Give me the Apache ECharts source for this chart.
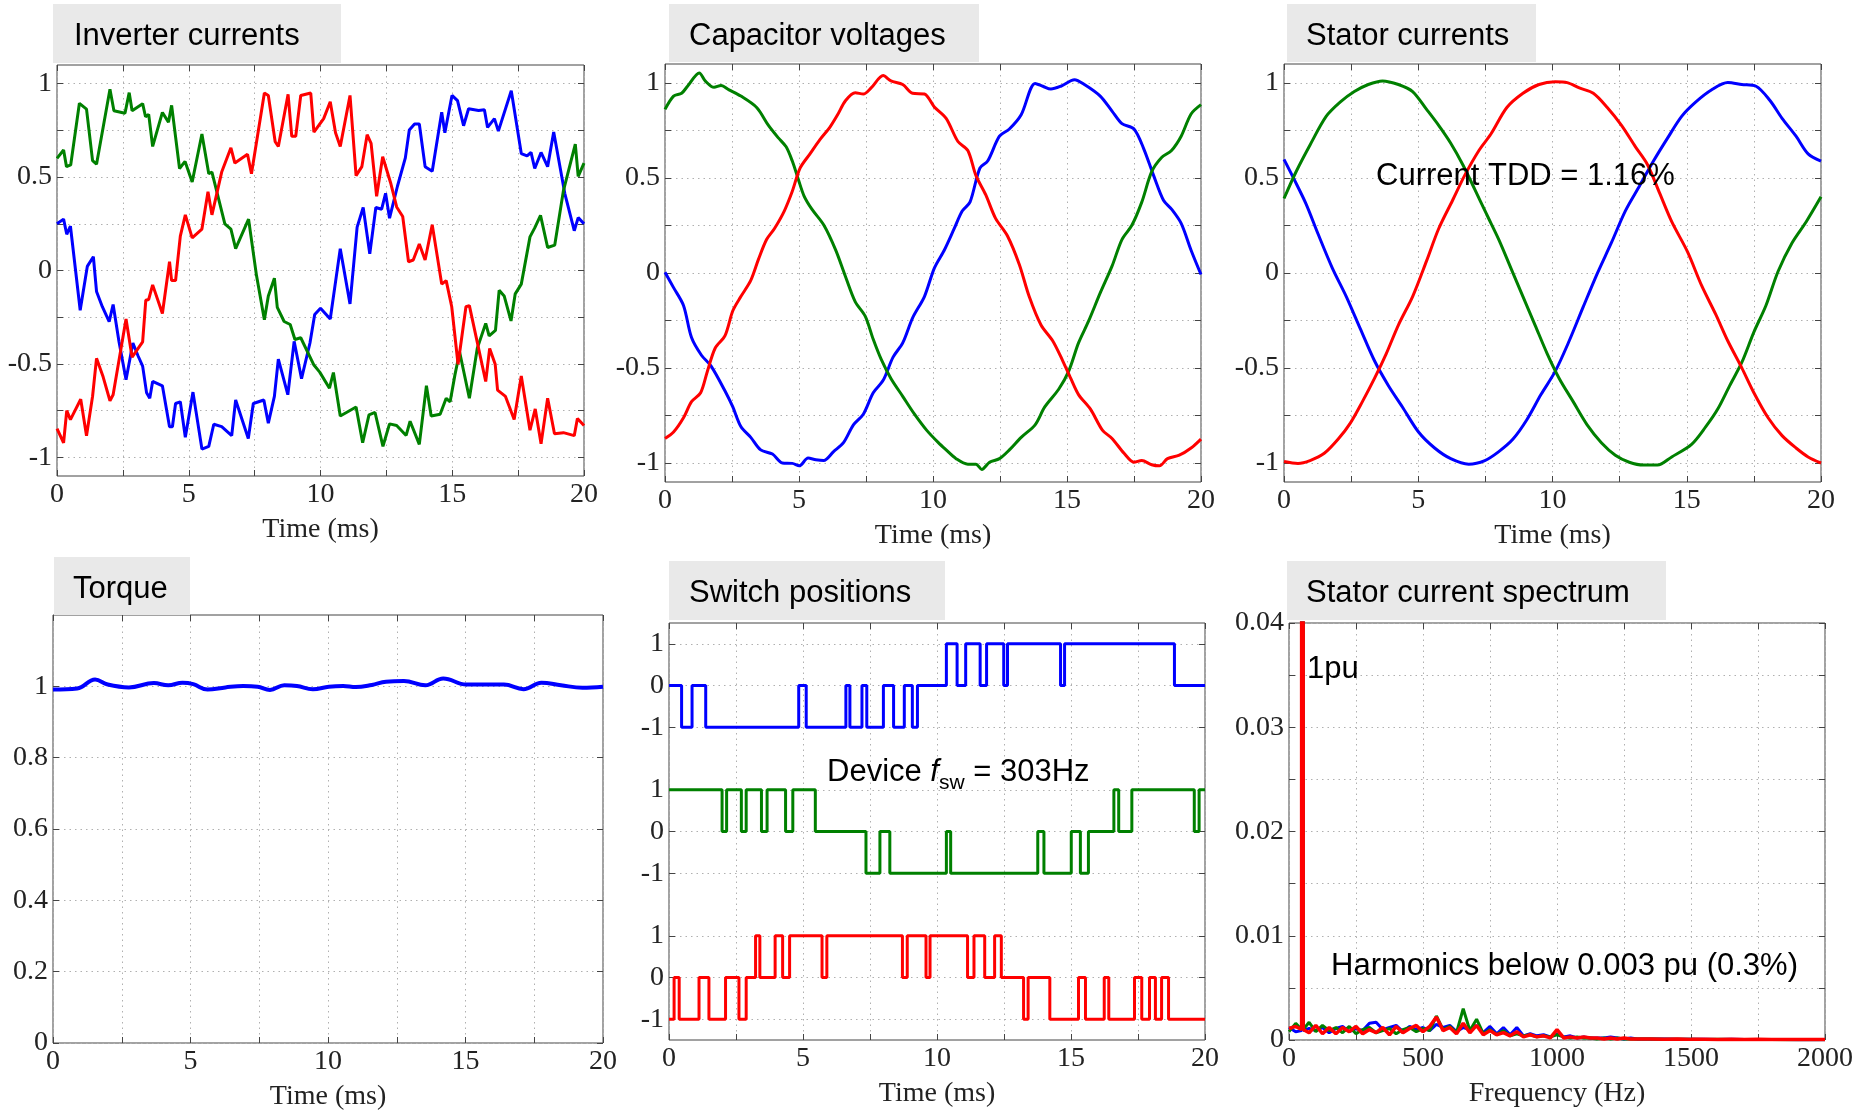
<!DOCTYPE html>
<html><head><meta charset="utf-8">
<script src="https://cdn.jsdelivr.net/npm/echarts@6/dist/echarts.min.js"></script>
<style>html,body{margin:0;padding:0;background:#fff}#c{width:1859px;height:1112px}</style>
</head><body><div id="c"></div><script>
// ---------- DATA ----------
// Inverter currents (time ms, value pu)
const invBlueT=[0,0.25,0.37,0.51,0.88,1.15,1.38,1.5,1.72,1.98,2.13,2.35,2.62,2.88,3.07,3.25,3.4,3.52,3.63,4.0,4.27,4.38,4.5,4.68,4.87,5.16,5.5,5.76,5.95,6.25,6.63,6.78,7.26,7.45,7.85,8.02,8.25,8.4,8.76,9.0,9.28,9.6,9.78,10.0,10.37,10.75,11.12,11.39,11.62,11.87,12.1,12.32,12.47,12.62,12.92,13.22,13.37,13.57,13.75,13.97,14.24,14.6,14.72,14.99,15.2,15.43,15.62,16.0,16.22,16.34,16.6,16.75,17.24,17.62,17.84,17.99,18.13,18.37,18.62,18.85,19.27,19.63,19.78,20];
const invBlueV=[0.25,0.275,0.194,0.237,-0.213,0.022,0.074,-0.112,-0.194,-0.274,-0.182,-0.379,-0.585,-0.388,-0.455,-0.512,-0.655,-0.684,-0.594,-0.617,-0.836,-0.836,-0.712,-0.703,-0.893,-0.651,-0.956,-0.941,-0.823,-0.836,-0.884,-0.693,-0.899,-0.712,-0.693,-0.817,-0.674,-0.474,-0.665,-0.379,-0.579,-0.388,-0.236,-0.202,-0.26,0.117,-0.179,0.232,0.337,0.089,0.337,0.328,0.413,0.28,0.451,0.603,0.752,0.784,0.784,0.556,0.531,0.847,0.737,0.937,0.909,0.775,0.866,0.857,0.861,0.766,0.813,0.746,0.962,0.626,0.613,0.632,0.546,0.632,0.556,0.741,0.413,0.213,0.283,0.25];
const invGreenT=[0,0.25,0.36,0.52,0.85,1.12,1.35,1.5,2.01,2.16,2.58,2.74,2.85,3.25,3.36,3.48,3.63,4.0,4.23,4.35,4.65,4.86,5.13,5.5,5.76,5.88,6.37,6.6,6.78,7.27,7.57,7.87,8.02,8.25,8.36,8.62,8.85,9.03,9.25,9.75,9.97,10.34,10.49,10.75,11.35,11.6,11.84,12.07,12.37,12.62,12.89,13.25,13.4,13.75,14.02,14.2,14.54,14.77,14.92,15.1,15.28,15.65,15.95,16.27,16.4,16.64,16.78,16.97,17.23,17.39,17.62,17.95,18.13,18.35,18.62,18.89,19.22,19.67,19.78,20];
const invGreenV=[0.60,0.645,0.556,0.565,0.895,0.864,0.588,0.569,0.97,0.855,0.842,0.952,0.855,0.893,0.823,0.836,0.664,0.846,0.794,0.884,0.546,0.584,0.474,0.731,0.518,0.527,0.25,0.222,0.117,0.275,-0.026,-0.264,-0.136,-0.041,-0.197,-0.273,-0.289,-0.369,-0.36,-0.506,-0.544,-0.63,-0.546,-0.779,-0.731,-0.922,-0.773,-0.76,-0.941,-0.821,-0.83,-0.883,-0.807,-0.931,-0.617,-0.779,-0.769,-0.684,-0.703,-0.56,-0.436,-0.684,-0.416,-0.283,-0.35,-0.321,-0.106,-0.136,-0.27,-0.125,-0.073,0.18,0.228,0.295,0.123,0.136,0.428,0.676,0.504,0.575];
const invRedT=[0,0.25,0.37,0.51,0.9,1.12,1.35,1.5,1.75,2.01,2.13,2.62,2.85,3.25,3.37,3.48,3.63,4.0,4.27,4.35,4.5,4.68,4.87,5.13,5.5,5.73,5.88,6.25,6.6,6.75,7.23,7.38,7.87,8.02,8.28,8.4,8.77,8.91,9.06,9.25,9.63,9.75,10.12,10.37,10.57,10.75,11.12,11.35,11.57,11.77,11.92,12.13,12.36,12.66,12.89,13.12,13.34,13.52,13.75,13.97,14.24,14.6,14.77,14.98,15.22,15.52,15.65,16.27,16.42,16.63,16.72,17.02,17.35,17.62,17.95,18.15,18.37,18.62,18.88,19.22,19.63,19.75,20];
const invRedV=[-0.846,-0.922,-0.75,-0.798,-0.689,-0.884,-0.673,-0.47,-0.569,-0.697,-0.665,-0.26,-0.464,-0.382,-0.159,-0.155,-0.077,-0.23,0.047,-0.054,-0.054,0.184,0.298,0.175,0.222,0.422,0.298,0.527,0.657,0.575,0.622,0.518,0.95,0.937,0.689,0.664,0.943,0.718,0.718,0.937,0.95,0.741,0.813,0.903,0.737,0.664,0.937,0.508,0.556,0.727,0.68,0.397,0.609,0.47,0.34,0.289,0.047,0.056,0.142,0.056,0.245,-0.073,-0.054,-0.194,-0.502,-0.194,-0.188,-0.594,-0.417,-0.502,-0.64,-0.674,-0.798,-0.565,-0.855,-0.741,-0.928,-0.684,-0.874,-0.868,-0.884,-0.792,-0.83];

// Capacitor voltages
const capBlueT=[0,0.32,0.69,0.99,1.36,1.72,2.24,2.53,2.83,3.2,3.57,4.01,4.38,4.75,5.01,5.34,5.63,5.92,6.29,6.66,7.03,7.4,7.77,8.14,8.51,8.87,9.24,9.68,10.05,10.42,10.79,11.09,11.38,11.75,12.04,12.48,12.85,13.29,13.81,14.1,14.4,14.77,15.28,15.65,16.24,16.68,17.05,17.5,17.86,18.23,18.6,18.9,19.26,19.63,20];
const capBlueV=[0.004,-0.077,-0.171,-0.34,-0.433,-0.49,-0.621,-0.705,-0.808,-0.865,-0.931,-0.953,-1.0,-1.002,-1.015,-0.974,-0.983,-0.987,-0.94,-0.893,-0.799,-0.743,-0.63,-0.565,-0.443,-0.368,-0.236,-0.124,0.026,0.12,0.233,0.326,0.373,0.552,0.589,0.72,0.758,0.833,0.998,0.983,0.968,0.983,1.017,0.992,0.931,0.852,0.786,0.758,0.655,0.514,0.383,0.336,0.261,0.12,-0.008];
const capGreenT=[0,0.32,0.62,0.84,1.28,1.5,1.83,2.09,2.39,2.83,3.42,3.86,4.23,4.52,4.75,4.97,5.19,5.48,5.93,6.37,6.74,7.1,7.47,7.77,8.06,8.43,8.87,9.31,9.76,10.2,10.49,10.86,11.3,11.6,11.82,12.11,12.48,12.85,13.29,13.81,14.17,14.69,15.06,15.43,15.8,16.24,16.68,17.05,17.42,17.79,18.16,18.53,18.9,19.26,19.63,20];
const capGreenV=[0.861,0.931,0.946,0.983,1.053,1.011,0.977,0.987,0.964,0.931,0.871,0.777,0.711,0.664,0.589,0.495,0.405,0.336,0.251,0.12,-0.021,-0.152,-0.227,-0.349,-0.452,-0.555,-0.649,-0.743,-0.827,-0.893,-0.931,-0.977,-1.006,-1.006,-1.034,-0.996,-0.977,-0.931,-0.865,-0.799,-0.705,-0.612,-0.518,-0.368,-0.255,-0.105,0.036,0.176,0.251,0.373,0.533,0.608,0.645,0.72,0.837,0.886];
const capRedT=[0,0.32,0.69,0.99,1.33,1.58,1.87,2.24,2.53,2.83,3.2,3.49,3.79,4.08,4.45,4.75,5.04,5.41,5.78,6.15,6.44,6.74,7.1,7.4,7.69,8.14,8.43,8.87,9.24,9.68,10.05,10.49,10.93,11.3,11.6,11.97,12.33,12.78,13.22,13.59,14.03,14.47,14.84,15.14,15.43,15.87,16.32,16.68,17.13,17.5,17.79,18.16,18.45,18.75,19.19,19.63,20];
const capRedV=[-0.871,-0.837,-0.762,-0.677,-0.63,-0.518,-0.396,-0.33,-0.199,-0.124,-0.039,0.073,0.176,0.233,0.326,0.43,0.552,0.627,0.702,0.767,0.833,0.908,0.949,0.942,0.974,1.039,1.011,0.992,0.946,0.942,0.874,0.814,0.692,0.645,0.514,0.411,0.289,0.195,0.045,-0.124,-0.274,-0.358,-0.462,-0.555,-0.64,-0.715,-0.827,-0.871,-0.949,-0.996,-0.987,-1.009,-1.015,-0.977,-0.959,-0.921,-0.874];

// Stator currents
const statBlueT=[0,0.37,0.82,1.27,1.8,2.32,2.84,3.37,3.89,4.41,5.01,5.61,6.21,6.88,7.48,8.0,8.53,9.05,9.57,10.1,10.62,11.14,11.67,12.19,12.71,13.24,13.76,14.29,14.81,15.33,15.93,16.53,17.05,17.58,18.1,18.55,19.07,19.52,20];
const statBlueV=[0.598,0.495,0.364,0.205,0.026,-0.124,-0.293,-0.462,-0.593,-0.705,-0.837,-0.921,-0.977,-1.006,-0.987,-0.94,-0.874,-0.771,-0.64,-0.518,-0.358,-0.18,-0.002,0.158,0.326,0.458,0.589,0.711,0.824,0.899,0.964,1.002,0.992,0.983,0.908,0.814,0.72,0.627,0.589];
const statGreenT=[0,0.45,0.97,1.57,2.09,2.62,3.14,3.67,4.26,4.79,5.31,5.76,6.21,6.66,7.11,7.55,8.0,8.45,8.9,9.35,9.8,10.25,10.77,11.29,11.82,12.34,12.86,13.39,13.91,14.44,15.18,15.71,16.16,16.6,17.05,17.5,17.95,18.4,18.92,19.45,20];
const statGreenV=[0.392,0.533,0.674,0.824,0.899,0.955,0.992,1.011,0.992,0.955,0.861,0.777,0.683,0.57,0.439,0.308,0.176,0.026,-0.124,-0.274,-0.424,-0.555,-0.677,-0.799,-0.893,-0.959,-0.996,-1.011,-1.011,-0.968,-0.902,-0.809,-0.715,-0.593,-0.471,-0.311,-0.171,0.008,0.158,0.27,0.401];
const statRedT=[0,0.52,0.97,1.5,2.02,2.47,2.92,3.37,3.81,4.26,4.79,5.31,5.76,6.28,6.73,7.26,7.7,8.3,8.9,9.5,10.1,10.55,11.0,11.52,12.04,12.57,13.09,13.54,13.99,14.44,15.03,15.56,16.08,16.53,17.05,17.5,18.03,18.55,19.07,19.52,20];
const statRedV=[-0.992,-1.002,-0.987,-0.949,-0.874,-0.79,-0.677,-0.555,-0.424,-0.274,-0.124,0.064,0.233,0.383,0.514,0.645,0.73,0.871,0.946,0.992,1.006,1.002,0.974,0.946,0.871,0.777,0.664,0.57,0.42,0.27,0.111,-0.068,-0.218,-0.358,-0.499,-0.63,-0.762,-0.856,-0.921,-0.968,-1.0];

// Torque
const torqueT=[0,0.88,1.53,1.99,2.76,3.67,4.19,4.71,5.1,5.62,6.27,6.92,7.44,7.89,8.41,8.87,9.45,10.03,10.55,11.01,11.59,12.11,12.76,13.54,14.19,15.03,15.75,16.4,17.11,17.76,18.47,19.25,20];
const torqueV=[0.991,0.994,1.019,1.005,0.997,1.009,1.003,1.01,1.006,0.991,0.997,1.001,0.999,0.99,1.003,1.001,0.992,0.999,1.001,0.998,1.004,1.013,1.015,1.003,1.022,1.005,1.005,1.005,0.992,1.01,1.003,0.996,0.999];

// Switch positions: switching instants (ms) and level held from that instant
const swBlueT=[0,0.47,0.86,1.37,4.84,5.12,6.60,6.75,7.20,7.38,8.00,8.38,8.78,9.08,9.27,10.35,10.75,11.07,11.61,11.85,12.49,12.63,14.61,14.76,18.86,20];
const swBlueL=[0,-1,0,-1,0,-1,0,-1,0,-1,0,-1,0,-1,0,1,0,1,0,1,0,1,0,1,0,0];
const swGreenT=[0,1.98,2.15,2.70,2.88,3.45,3.66,4.35,4.62,5.46,7.35,7.87,8.24,10.35,10.51,13.76,13.99,15.01,15.35,15.65,16.60,16.78,17.27,19.60,19.78,20];
const swGreenL=[1,0,1,0,1,0,1,0,1,0,-1,0,-1,0,-1,0,-1,0,-1,0,1,0,1,0,1,1];
const swRedT=[0,0.19,0.38,1.12,1.49,2.11,2.61,2.88,3.23,3.39,3.96,4.24,4.50,5.71,5.89,8.71,8.89,9.59,9.74,11.14,11.38,11.78,12.15,12.40,13.23,13.40,14.21,15.28,15.54,16.24,16.41,17.37,17.64,17.93,18.15,18.38,18.64,20];
const swRedL=[-1,0,-1,0,-1,0,-1,0,1,0,1,0,1,0,1,0,1,0,1,0,1,0,1,0,-1,0,-1,0,-1,0,-1,0,-1,0,-1,0,-1,-1];
const swOffsets=[7,3.5,0]; // vertical placement of phase a, b, c traces

// Stator current spectrum (Hz, pu)
const specF=[0,25,47,50,53,75,100,125,150,175,200,225,250,275,300,325,350,375,400,425,450,475,500,525,550,575,600,625,650,675,700,725,750,775,800,825,850,875,900,925,950,975,1000,1025,1050,1075,1100,1125,1150,1175,1200,1225,1250,1275,1300,1350,1400,1450,1500,1550,1600,1650,1700,1750,1800,1850,1900,1950,2000];
const specBlue=[0.0012,0.0008,0.0009,1,0.0009,0.0011,0.0009,0.0012,0.0007,0.0011,0.0013,0.0008,0.0011,0.0009,0.0016,0.0017,0.0010,0.0012,0.0014,0.0008,0.0013,0.0010,0.0012,0.0009,0.0015,0.0012,0.0014,0.0008,0.0012,0.0010,0.0014,0.0007,0.0013,0.0006,0.0012,0.0005,0.0012,0.0004,0.0006,0.0004,0.0005,0.0003,0.0006,0.0003,0.0004,0.0002,0.0003,0.0002,0.0002,0.0002,0.0003,0.0002,0.0001,0.0002,0.0001,0.0001,0.0001,0.00008,0.00006,0.00007,0.00005,0.00006,0.00004,0.00005,0.00004,0.00004,0.00003,0.00004,0.00003];
const specGreen=[0.0008,0.0016,0.0010,1,0.0010,0.0017,0.0008,0.0014,0.0009,0.0012,0.0007,0.0013,0.0006,0.0010,0.0012,0.0007,0.0009,0.0011,0.0006,0.0010,0.0012,0.0008,0.0011,0.0009,0.0023,0.0010,0.0013,0.0007,0.0030,0.0009,0.0020,0.0006,0.0010,0.0005,0.0009,0.0004,0.0006,0.0004,0.0005,0.0003,0.0004,0.0003,0.0005,0.0003,0.0002,0.0003,0.0002,0.0002,0.0001,0.0002,0.0001,0.0002,0.0001,0.0001,0.0001,0.0001,0.00008,0.00006,0.00007,0.00005,0.00006,0.00004,0.00005,0.00004,0.00004,0.00003,0.00004,0.00003,0.00003];
const specRed=[0.0011,0.0013,0.0010,1,0.0010,0.0007,0.0014,0.0006,0.0012,0.0006,0.0012,0.0008,0.0013,0.0006,0.0010,0.0007,0.0012,0.0005,0.0013,0.0007,0.0011,0.0014,0.0008,0.0013,0.0022,0.0009,0.0012,0.0006,0.0016,0.0007,0.0014,0.0005,0.0009,0.0005,0.0007,0.0004,0.0008,0.0003,0.0005,0.0003,0.0004,0.0002,0.0010,0.0002,0.0003,0.0002,0.0003,0.0002,0.0002,0.0001,0.0002,0.0001,0.0002,0.0001,0.0001,0.0001,0.00008,0.0001,0.00006,0.00008,0.00005,0.00007,0.00005,0.00006,0.00004,0.00005,0.00004,0.00005,0.00004];

// Tick / label values
const timeTicks=[0,2.5,5,7.5,10,12.5,15,17.5,20];
const timeLabels=[0,5,10,15,20];
const puTicks=[-1,-0.75,-0.5,-0.25,0,0.25,0.5,0.75,1];
const puLabels=[-1,-0.5,0,0.5,1];
const torqueTicks=[0,0.2,0.4,0.6,0.8,1];
const swTicks=[-1,0,1,2.5,3.5,4.5,6,7,8];
const freqTicks=[0,250,500,750,1000,1250,1500,1750,2000];
const freqLabels=[0,500,1000,1500,2000];
const specTicks=[0,0.005,0.01,0.015,0.02,0.025,0.03,0.035,0.04];
const specLabels=[0,0.01,0.02,0.03,0.04];

// ---------- CHART ----------
const SERIF='"Liberation Serif","Times New Roman",serif';
const SANS='"Liberation Sans",Arial,sans-serif';
const C_BLUE='#0000ff', C_GREEN='#008000', C_RED='#ff0000';
const AX='#444', GRID='#b0b0b0';
const grids=[], xAxes=[], yAxes=[], series=[], graphics=[];
function pairs(t,v,off){ off=off||0; return t.map((x,i)=>[x,v[i]+off]); }
function panel(rect,xc,yc,xName){
  const gi=grids.length;
  grids.push({left:rect[0],top:rect[1],width:rect[2],height:rect[3],show:true,borderColor:AX,borderWidth:1,backgroundColor:'#fff',containLabel:false,outerBoundsMode:'none'});
  const split={show:true,lineStyle:{color:GRID,width:1,type:[1.5,4]}};
  const tick={show:true,inside:true,length:6,lineStyle:{color:AX,width:1}};
  const lab={fontFamily:SERIF,fontSize:28,color:'#222'};
  const noLine={show:false,onZero:false};
  const xi=xAxes.length;
  xAxes.push({type:'value',gridIndex:gi,min:xc.min,max:xc.max,position:'bottom',
    axisLine:noLine,axisTick:Object.assign({customValues:xc.ticks},tick),
    axisLabel:Object.assign({customValues:xc.labels,margin:5,formatter:xc.fmt||(v=>String(v))},lab),
    splitLine:split,name:xName,nameLocation:'middle',nameGap:40,
    nameTextStyle:{fontFamily:SERIF,fontSize:28,color:'#222'}});
  xAxes.push({type:'value',gridIndex:gi,min:xc.min,max:xc.max,position:'top',
    axisLine:noLine,axisTick:Object.assign({customValues:xc.ticks},tick),
    axisLabel:{show:false},splitLine:{show:false}});
  const yi=yAxes.length;
  yAxes.push({type:'value',gridIndex:gi,min:yc.min,max:yc.max,position:'left',
    axisLine:noLine,axisTick:Object.assign({customValues:yc.ticks},tick),
    axisLabel:Object.assign({customValues:yc.labels,margin:5,formatter:yc.fmt||(v=>String(v))},lab),
    splitLine:split});
  yAxes.push({type:'value',gridIndex:gi,min:yc.min,max:yc.max,position:'right',
    axisLine:noLine,axisTick:Object.assign({customValues:yc.ticks},tick),
    axisLabel:{show:false},splitLine:{show:false}});
  return {xi,yi};
}
function line(ax,data,color,w,extra){
  series.push(Object.assign({type:'line',xAxisIndex:ax.xi,yAxisIndex:ax.yi,data:data,showSymbol:false,symbol:'none',
    lineStyle:{color:color,width:w},itemStyle:{color:color},animation:false,silent:true},extra||{}));
}
function titleBox(x,y,w,h,tx,text){
  graphics.push({type:'rect',left:x,top:y,shape:{width:w,height:h},style:{fill:'#e9e9e9'},z:100});
  graphics.push({type:'text',x:tx,y:y+h/2+3,style:{text:text,fontFamily:SANS,fontSize:31,fill:'#000',verticalAlign:'middle',align:'left'},z:101});
}
function note(x,y,text){
  graphics.push({type:'text',x:x,y:y,style:{text:text,fontFamily:SANS,fontSize:31,fill:'#000',verticalAlign:'middle',align:'left'},z:101});
}

const timeX={min:0,max:20,ticks:timeTicks,labels:timeLabels};
const puY={min:-1.1,max:1.1,ticks:puTicks,labels:puLabels};

// Panel 1: inverter currents
const p1=panel([57,65,527,411],timeX,puY,'Time (ms)');
line(p1,pairs(invBlueT,invBlueV),C_BLUE,3);
line(p1,pairs(invGreenT,invGreenV),C_GREEN,3);
line(p1,pairs(invRedT,invRedV),C_RED,3);
// Panel 2: capacitor voltages
const p2=panel([665,64,536,418],timeX,puY,'Time (ms)');
line(p2,pairs(capBlueT,capBlueV),C_BLUE,3,{smooth:0.3});
line(p2,pairs(capGreenT,capGreenV),C_GREEN,3,{smooth:0.3});
line(p2,pairs(capRedT,capRedV),C_RED,3,{smooth:0.3});
// Panel 3: stator currents
const p3=panel([1284,64,537,418],timeX,puY,'Time (ms)');
line(p3,pairs(statBlueT,statBlueV),C_BLUE,3,{smooth:0.3});
line(p3,pairs(statGreenT,statGreenV),C_GREEN,3,{smooth:0.3});
line(p3,pairs(statRedT,statRedV),C_RED,3,{smooth:0.3});
// Panel 4: torque
const p4=panel([53,615,550,428],timeX,{min:0,max:1.2,ticks:torqueTicks,labels:torqueTicks},'Time (ms)');
line(p4,pairs(torqueT,torqueV),C_BLUE,4,{smooth:0.4});
// Panel 5: switch positions
const swFmt=v=>{for(const o of swOffsets){if(Math.abs(v-o)<=1.01)return String(Math.round(v-o));}return '';};
const p5=panel([669,623,536,417],timeX,{min:-1.5,max:8.5,ticks:swTicks,labels:swTicks,fmt:swFmt},'Time (ms)');
line(p5,pairs(swBlueT,swBlueL,swOffsets[0]),C_BLUE,3,{step:'end'});
line(p5,pairs(swGreenT,swGreenL,swOffsets[1]),C_GREEN,3,{step:'end'});
line(p5,pairs(swRedT,swRedL,swOffsets[2]),C_RED,3,{step:'end'});
// Panel 6: spectrum
const p6=panel([1289,623,536,417],{min:0,max:2000,ticks:freqTicks,labels:freqLabels},{min:0,max:0.04,ticks:specTicks,labels:specLabels},'Frequency (Hz)');
line(p6,pairs(specF,specBlue),C_BLUE,3);
line(p6,pairs(specF,specGreen),C_GREEN,3);
line(p6,pairs(specF,specRed),C_RED,3.5);

// Title boxes
titleBox(53,4,288,59,74,'Inverter currents');
titleBox(669,4,310,58,689,'Capacitor voltages');
titleBox(1287,4,249,58,1306,'Stator currents');
titleBox(54,557,136,58,73,'Torque');
titleBox(669,561,276,59,689,'Switch positions');
titleBox(1287,561,379,59,1306,'Stator current spectrum');
// Annotations
note(1376,176,'Current TDD = 1.16%');
note(1307,669,'1pu');
note(1331,966,'Harmonics below 0.003 pu (0.3%)');
graphics.push({type:'text',x:827,y:772,z:101,style:{
  text:'{a|Device }{i|f}{s|sw}{a| = 303Hz}',align:'left',verticalAlign:'middle',
  rich:{a:{fontFamily:SANS,fontSize:31,fill:'#000',lineHeight:44,verticalAlign:'middle'},
        i:{fontFamily:SANS,fontSize:31,fontStyle:'italic',fill:'#000',lineHeight:44,verticalAlign:'middle'},
        s:{fontFamily:SANS,fontSize:21,fill:'#000',lineHeight:22,verticalAlign:'bottom'}}}});

const chart=echarts.init(document.getElementById('c'),null,{renderer:'canvas',width:1859,height:1112});
chart.setOption({animation:false,backgroundColor:'#fff',grid:grids,xAxis:xAxes,yAxis:yAxes,series:series,graphic:graphics});
</script></body></html>
